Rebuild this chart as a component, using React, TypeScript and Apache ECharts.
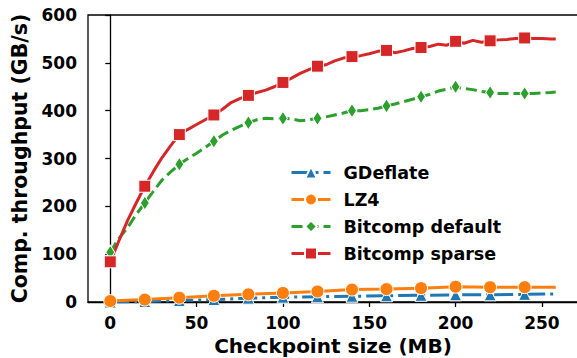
import React, { useEffect, useRef } from "react";
import * as echarts from "echarts";

// Checkpoint sizes (MB)
const xsFine = [
  0, 5, 10, 15, 20, 25, 30, 35, 40, 45, 50, 55, 60, 65, 70, 75, 80, 85, 90, 95,
  100, 105, 110, 115, 120, 125, 130, 135, 140, 145, 150, 155, 160, 165, 170, 175,
  180, 185, 190, 195, 200, 205, 210, 215, 220, 225, 230, 235, 240, 245, 250, 255, 258,
];
const xsCoarse = [0, 20, 40, 60, 80, 100, 120, 140, 160, 180, 200, 220, 240, 258];

const gdeflate = [0, 1, 3, 5, 8, 10, 11, 12, 13, 14, 15, 15, 16, 17];
const lz4 = [2, 5, 9, 13, 16, 19, 22, 26, 27, 29, 32, 31, 31, 31];
const bitcompDefault = [
  104, 133, 155, 183, 207, 232, 255, 272, 288, 300, 311, 323, 336, 349, 359, 367,
  375, 381, 384, 383, 384, 383, 379, 381, 384, 387, 391, 395, 400, 400, 402, 405,
  410, 414, 419, 424, 429, 434, 441, 445, 450, 446, 444, 440, 438, 436, 436, 436,
  436, 436, 437, 438, 439,
];
const bitcompSparse = [
  84, 128, 170, 207, 242, 273, 302, 327, 350, 361, 371, 381, 391, 403, 417, 425,
  432, 438, 443, 450, 459, 468, 478, 486, 493, 496, 504, 510, 513, 515, 519, 524,
  526, 521, 525, 530, 532, 534, 539, 537, 545, 541, 547, 543, 546, 548, 549, 551,
  552, 551, 551, 550, 550,
];

const xTicks = [0, 50, 100, 150, 200, 250];
const seriesNames = ["GDeflate", "LZ4", "Bitcomp default", "Bitcomp sparse"];
const colors = ["#1f77b4", "#ff7f0e", "#2ca02c", "#d62728"];

const FONT = "DejaVu Sans";

function buildData(xs: number[], ys: number[]) {
  return xs.map((x, i) => {
    const marker = x % 20 === 0 && x <= 240;
    return marker ? { value: [x, ys[i]] } : { value: [x, ys[i]], symbol: "none" };
  });
}

export default function App() {
  const ref = useRef<HTMLDivElement>(null);
  useEffect(() => {
    if (!ref.current) return;
    const chart = echarts.init(ref.current, undefined, { renderer: "svg" });
    const axisLine = { show: true, lineStyle: { color: "#000", width: 1.3 } };
    const tick = { show: true, length: 5, lineStyle: { color: "#000", width: 1.3 } };
    const lbl = { color: "#000", fontFamily: FONT, fontWeight: "bold" as const, fontSize: 17 };
    const white = { borderColor: "#fff", borderWidth: 1 };
    chart.setOption({
      animation: false,
      backgroundColor: "#fff",
      grid: {
        left: 88,
        top: 15,
        right: -1,
        bottom: 56,
        containLabel: false,
        outerBoundsMode: "none",
        show: true,
        borderColor: "#000",
        borderWidth: 1.3,
      },
      legend: {
        orient: "vertical",
        left: 290,
        top: 163.5,
        itemWidth: 39,
        itemHeight: 15,
        itemGap: 9,
        padding: 0,
        data: seriesNames,
        lineStyle: { width: 3 },
        textStyle: { ...lbl, fontSize: 17.5, padding: [0, 0, 0, 8] },
      },
      xAxis: {
        type: "value",
        min: -12.9,
        max: 270.9,
        name: "Checkpoint size (MB)",
        nameLocation: "middle",
        nameGap: 33,
        nameTextStyle: { ...lbl, fontSize: 20 },
        axisLine,
        axisTick: { ...tick, customValues: xTicks },
        axisLabel: { ...lbl, margin: 12, customValues: xTicks },
        splitLine: { show: false },
      },
      yAxis: {
        type: "value",
        min: 0,
        max: 600,
        interval: 100,
        name: "Comp. throughput (GB/s)",
        nameLocation: "middle",
        nameGap: 56,
        nameTextStyle: { ...lbl, fontSize: 20.5 },
        axisLine,
        axisTick: tick,
        axisLabel: { ...lbl, margin: 11 },
        splitLine: { show: false },
      },
      series: [
        {
          name: seriesNames[0],
          type: "line",
          data: buildData(xsCoarse, gdeflate),
          symbol: "triangle",
          symbolSize: 12,
          color: colors[0],
          lineStyle: { width: 3, color: colors[0], type: [19, 5, 3, 5] },
          itemStyle: { color: colors[0], ...white },
        },
        {
          name: seriesNames[1],
          type: "line",
          data: buildData(xsCoarse, lz4),
          symbol: "circle",
          symbolSize: 13,
          color: colors[1],
          lineStyle: { width: 3, color: colors[1], type: "solid" },
          itemStyle: { color: colors[1], ...white },
        },
        {
          name: seriesNames[2],
          type: "line",
          data: buildData(xsFine, bitcompDefault),
          symbol: "diamond",
          symbolSize: [9, 14],
          color: colors[2],
          lineStyle: { width: 3, color: colors[2], type: [11, 5] },
          itemStyle: { color: colors[2], ...white },
        },
        {
          name: seriesNames[3],
          type: "line",
          data: buildData(xsFine, bitcompSparse),
          symbol: "rect",
          symbolSize: 12,
          color: colors[3],
          lineStyle: { width: 3, color: colors[3], type: "solid" },
          itemStyle: { color: colors[3], ...white },
        },
      ],
    });
    return () => chart.dispose();
  }, []);
  return (
    <div
      ref={ref}
      style={{ position: "fixed", left: 0, top: 0, width: 577, height: 358 }}
    />
  );
}
